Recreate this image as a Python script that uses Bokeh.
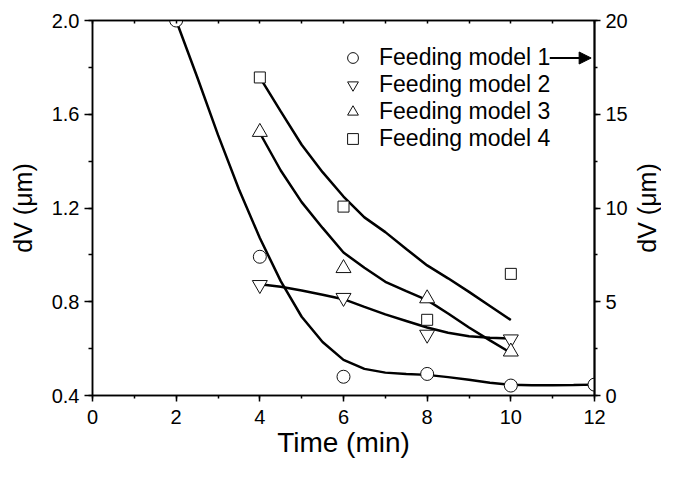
from bokeh.plotting import figure
from bokeh.layouts import row
from bokeh.models import (Range1d, LinearAxis, SingleIntervalTicker, NumeralTickFormatter,
                          FixedTicker, Legend, LegendItem, Arrow, NormalHead)
from bokeh.embed import file_html
from bokeh.resources import INLINE

FONT = "Liberation Sans"

# ---- data ----
time_m1 = [2, 4, 6, 8, 10, 12]
model1 = [20.0, 7.4, 1.0, 1.15, 0.53, 0.58]          # right axis (0-20 um)
time_m234 = [4, 6, 8, 10]
model2 = [0.872, 0.817, 0.66, 0.64]
model3 = [1.524, 0.943, 0.814, 0.587]
model4 = [1.757, 1.206, 0.723, 0.919]

fit1_t = [2, 2.5, 3, 3.5, 4, 4.5, 5, 5.5, 6, 6.5, 7, 7.5, 8, 8.5, 9, 9.5, 10, 10.5, 11, 11.5, 12]
fit1 = [20.0, 17.0, 13.9, 11.0, 8.4, 6.1, 4.2, 2.85, 1.9, 1.42, 1.22, 1.15, 1.1, 0.98, 0.84,
        0.68, 0.57, 0.55, 0.55, 0.56, 0.58]
fit_t = [4, 4.5, 5, 5.5, 6, 6.5, 7, 7.5, 8, 8.5, 9, 9.5, 10]
fit2 = [0.875, 0.864, 0.848, 0.83, 0.811, 0.778, 0.746, 0.718, 0.69, 0.668, 0.653, 0.646, 0.643]
fit3 = [1.52, 1.36, 1.225, 1.115, 1.01, 0.945, 0.885, 0.845, 0.807, 0.75, 0.69, 0.635, 0.582]
fit4 = [1.757, 1.612, 1.47, 1.353, 1.249, 1.16, 1.097, 1.025, 0.955, 0.9, 0.842, 0.782, 0.722]

series_labels = ["Feeding model 1", "Feeding model 2", "Feeding model 3", "Feeding model 4"]
x_title = "Time (min)"
y_title = "dV (μm)"
arrow_x = [10.93, 11.92]
arrow_y = 18.0

H = 463

# ---------------- main plot ----------------
p = figure(width=630, height=H, x_range=Range1d(0, 12), y_range=Range1d(0.4, 2.0),
           output_backend="svg", toolbar_location=None,
           min_border_left=92, min_border_right=35, min_border_top=20, min_border_bottom=68)
p.grid.visible = False
p.outline_line_color = "black"
p.outline_line_width = 1.5
p.background_fill_color = "white"
p.border_fill_color = "white"

def style_axis(ax, tick_out, minor_out):
    ax.axis_line_color = "black"
    ax.axis_line_width = 1.5
    ax.major_tick_line_color = "black"
    ax.major_tick_line_width = 1.5
    ax.minor_tick_line_color = "black"
    ax.minor_tick_line_width = 1.5
    ax.major_tick_in = 0
    ax.major_tick_out = tick_out
    ax.minor_tick_in = 0
    ax.minor_tick_out = minor_out
    ax.major_label_text_font = FONT
    ax.major_label_text_font_size = "20px"
    ax.major_label_text_color = "black"

def style_title(ax, size, standoff):
    ax.axis_label_text_font = FONT
    ax.axis_label_text_font_size = size
    ax.axis_label_text_font_style = "normal"
    ax.axis_label_text_color = "black"
    ax.axis_label_standoff = standoff

# bottom axis
xa = p.xaxis[0]
xa.ticker = SingleIntervalTicker(interval=2, num_minor_ticks=2)
style_axis(xa, 6, 3)
xa.major_label_standoff = 8
xa.axis_label = x_title
style_title(xa, "28px", 0)

# left axis
ya = p.yaxis[0]
ya.ticker = SingleIntervalTicker(interval=0.4, num_minor_ticks=2)
ya.formatter = NumeralTickFormatter(format="0.0")
style_axis(ya, 8, 4)
ya.major_label_standoff = 5
ya.axis_label = y_title
style_title(ya, "25px", 12)

# right axis
p.extra_y_ranges = {"right": Range1d(0, 20)}
ra = LinearAxis(y_range_name="right", ticker=SingleIntervalTicker(interval=5, num_minor_ticks=2))
style_axis(ra, 6, 3)
ra.major_label_standoff = 5
ra.axis_line_width = 2
p.add_layout(ra, "right")

# top axis (ticks only)
ta = LinearAxis(ticker=SingleIntervalTicker(interval=1, num_minor_ticks=0))
style_axis(ta, 0, 0)
ta.major_tick_in = 3
ta.major_label_text_font_size = "1px"
ta.major_label_standoff = 0
ta.major_label_overrides = {i: "" for i in range(13)}
p.add_layout(ta, "above")

# fitted curves
p.line(fit1_t, fit1, y_range_name="right", line_color="black", line_width=2.5)
p.line(fit_t, fit2, line_color="black", line_width=2.5)
p.line(fit_t, fit3, line_color="black", line_width=2.5)
p.line(fit_t, fit4, line_color="black", line_width=2.5)

# markers
r1 = p.scatter(time_m1, model1, y_range_name="right", marker="circle", size=13,
               fill_color="white", line_color="#111111", line_width=1)
r2 = p.scatter(time_m234, model2, marker="inverted_triangle", size=15,
               fill_color="white", line_color="#111111", line_width=1)
r3 = p.scatter(time_m234, model3, marker="triangle", size=15,
               fill_color="white", line_color="#111111", line_width=1)
r4 = p.scatter(time_m234, model4, marker="square", size=11,
               fill_color="white", line_color="#111111", line_width=1)

legend = Legend(items=[LegendItem(label=series_labels[0], renderers=[r1]),
                       LegendItem(label=series_labels[1], renderers=[r2]),
                       LegendItem(label=series_labels[2], renderers=[r3]),
                       LegendItem(label=series_labels[3], renderers=[r4])],
                location=(247, 243), border_line_color=None, background_fill_alpha=0,
                padding=0, margin=0, spacing=0, glyph_width=27, glyph_height=27,
                label_standoff=13, label_text_font=FONT, label_text_font_size="23px",
                label_text_baseline="middle", label_text_color="black")
p.add_layout(legend)

# arrow from legend entry 1 to the right axis
p.add_layout(Arrow(x_start=arrow_x[0], y_start=arrow_y, x_end=arrow_x[1], y_end=arrow_y,
                   y_range_name="right", line_color="black", line_width=2,
                   end=NormalHead(size=12, fill_color="black", line_color="black")))

# ---------------- right title strip (reads bottom to top, like the left one) ----------------
rs = figure(width=30, height=H, x_range=Range1d(0, 1), y_range=Range1d(0, 1),
            output_backend="svg", toolbar_location=None, x_axis_type=None,
            min_border_left=0, min_border_right=0, min_border_top=20, min_border_bottom=68)
rs.grid.visible = False
rs.outline_line_color = None
rs.background_fill_color = "white"
rs.border_fill_color = "white"
sa = rs.yaxis[0]
sa.ticker = FixedTicker(ticks=[])
sa.axis_line_color = None
sa.major_tick_out = 0
sa.major_tick_in = 0
sa.minor_tick_out = 0
sa.minor_tick_in = 0
sa.major_label_standoff = 0
sa.major_label_text_font_size = "1px"
sa.axis_label = y_title
style_title(sa, "25px", 0)

layout = row(p, rs, spacing=0)
open("out.html", "w").write(file_html(layout, INLINE))
